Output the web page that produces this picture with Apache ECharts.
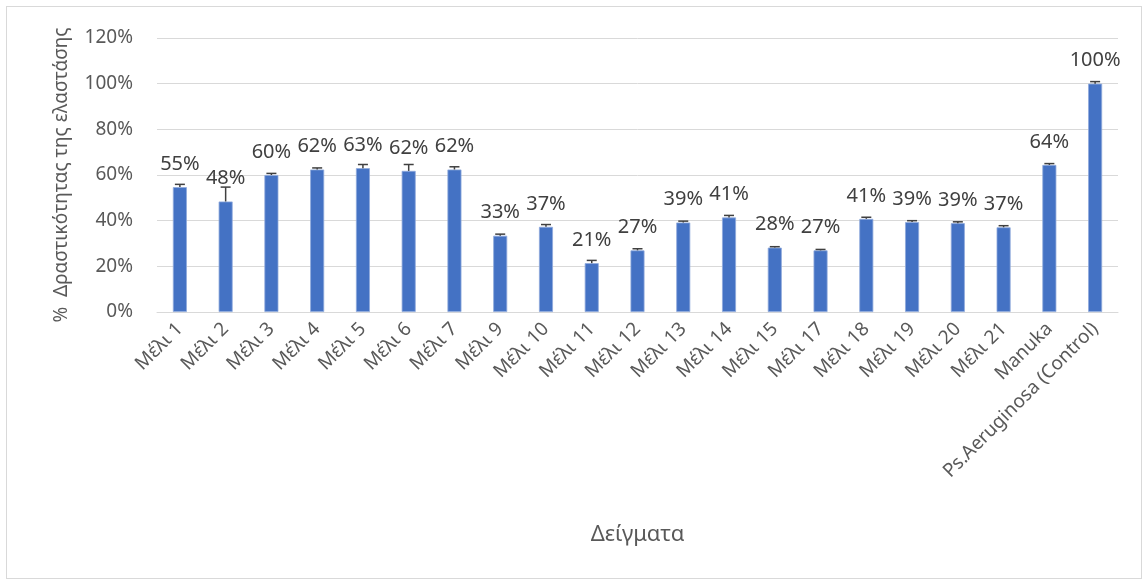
<!DOCTYPE html>
<html>
<head>
<meta charset="utf-8">
<script src="https://cdn.jsdelivr.net/npm/echarts@6/dist/echarts.min.js"></script>
<style>
  html, body { margin: 0; padding: 0; background: #fff; }
  #frame { position: absolute; left: 6px; top: 6px; width: 1134px; height: 571px; border: 1px solid #d9d9d9; }
  #chart { width: 1148px; height: 581px; }
</style>
</head>
<body>
<div id="frame"></div>
<div id="chart"></div>
<script>
// κατηγορίες (δείγματα)
var categories = ['Μέλι 1', 'Μέλι 2', 'Μέλι 3', 'Μέλι 4', 'Μέλι 5', 'Μέλι 6', 'Μέλι 7', 'Μέλι 9', 'Μέλι 10',
  'Μέλι 11', 'Μέλι 12', 'Μέλι 13', 'Μέλι 14', 'Μέλι 15', 'Μέλι 17', 'Μέλι 18', 'Μέλι 19', 'Μέλι 20', 'Μέλι 21',
  'Manuka', 'Ps.Aeruginosa (Control)'];
// % δραστικότητα
var values = [54.7, 48.4, 60.0, 62.4, 63.0, 61.8, 62.4, 33.4, 37.3, 21.4, 27.0, 39.2, 41.4, 28.2, 27.0, 40.8, 39.4, 38.9, 37.1, 64.4, 100.0];
// θετικό σφάλμα
var errors = [1.2, 6.3, 0.7, 0.7, 1.6, 2.8, 1.2, 0.7, 1.0, 1.2, 0.7, 0.6, 0.9, 0.4, 0.4, 0.7, 0.6, 0.6, 0.7, 0.6, 0.9];
var yTicks = [0, 20, 40, 60, 80, 100, 120];

var font = '"Noto Sans", "Open Sans", sans-serif';
var chart = echarts.init(document.getElementById('chart'));

var errData = values.map(function (v, i) { return [i, v, v + errors[i]]; });

var option = {
  animation: false,
  grid: { left: 157, right: 30, top: 38, bottom: 269 },
  xAxis: {
    type: 'category',
    data: categories,
    name: 'Δείγματα',
    nameLocation: 'middle',
    nameGap: 212,
    nameTextStyle: { fontFamily: font, fontSize: 22, color: '#595959' },
    axisTick: { show: false },
    axisLine: { lineStyle: { color: '#d9d9d9', width: 1 } },
    axisLabel: { rotate: 45, interval: 0, margin: 14, fontFamily: font, fontSize: 19, color: '#595959' }
  },
  yAxis: {
    type: 'value',
    min: yTicks[0],
    max: yTicks[yTicks.length - 1],
    interval: 20,
    name: '%  Δραστικότητας της ελαστάσης',
    nameLocation: 'middle',
    nameGap: 86,
    nameTextStyle: { fontFamily: font, fontSize: 19, color: '#595959' },
    axisLine: { show: false },
    axisTick: { show: false },
    axisLabel: { margin: 24, fontFamily: font, fontSize: 19, color: '#595959', formatter: '{value}%' },
    splitLine: { lineStyle: { color: '#d9d9d9', width: 1 } }
  },
  series: [
    {
      type: 'bar',
      data: values,
      barWidth: 14,
      itemStyle: { color: '#4472c4', borderColor: '#8faadc', borderWidth: 0.8 },
      label: {
        show: true,
        position: 'top',
        distance: 13,
        fontFamily: font,
        fontSize: 20,
        color: '#404040',
        formatter: function (p) { return Math.round(p.value) + '%'; }
      }
    },
    {
      type: 'custom',
      z: 5,
      data: errData,
      renderItem: function (params, api) {
        var x = api.value(0);
        var lo = api.coord([x, api.value(1)]);
        var hi = api.coord([x, api.value(2)]);
        var hw = 5;
        var style = { stroke: '#404040', lineWidth: 1.5 };
        return {
          type: 'group',
          children: [
            { type: 'line', shape: { x1: lo[0], y1: lo[1], x2: hi[0], y2: hi[1] }, style: style },
            { type: 'line', shape: { x1: hi[0] - hw, y1: hi[1], x2: hi[0] + hw, y2: hi[1] }, style: style }
          ]
        };
      }
    }
  ]
};
chart.setOption(option);
</script>
</body>
</html>
